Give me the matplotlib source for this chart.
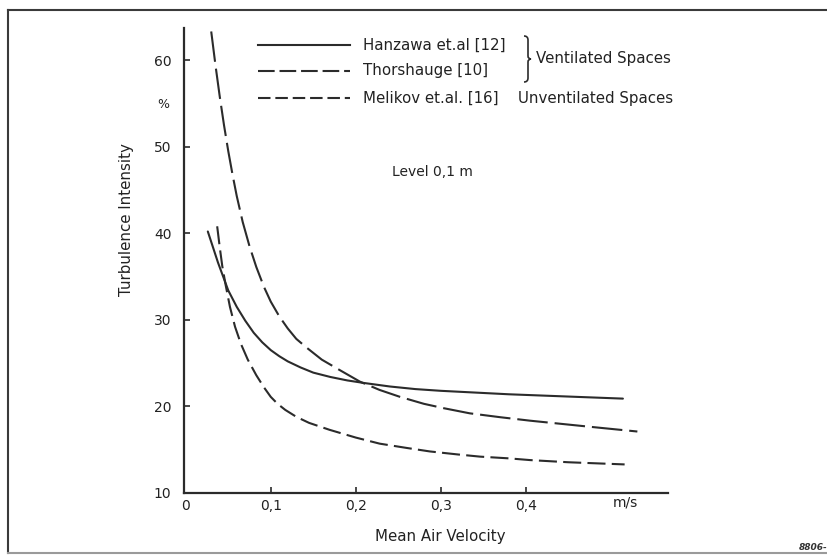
import matplotlib
matplotlib.use("Agg")
import matplotlib.pyplot as plt
from matplotlib.lines import Line2D
from matplotlib.path import Path
from matplotlib.patches import PathPatch
from matplotlib.transforms import blended_transform_factory

plt.rcParams["font.family"] = ["DejaVu Sans"]
plt.rcParams["lines.scale_dashes"] = False

# Mean air velocity (m/s) and turbulence intensity (%) for each source
hanzawa_v = [0.026, 0.032, 0.038, 0.044, 0.050, 0.060, 0.070, 0.080, 0.090,
             0.100, 0.110, 0.120, 0.135, 0.150, 0.170, 0.190, 0.210, 0.240,
             0.270, 0.300, 0.340, 0.380, 0.420, 0.460, 0.514]
hanzawa_tu = [40.2, 38.4, 36.6, 35.0, 33.4, 31.5, 29.9, 28.5, 27.4,
              26.5, 25.8, 25.2, 24.5, 23.9, 23.4, 23.0, 22.7, 22.3,
              22.0, 21.8, 21.6, 21.4, 21.25, 21.1, 20.9]

thorshauge_v = [0.030, 0.035, 0.040, 0.045, 0.050, 0.055, 0.060, 0.067, 0.075,
                0.083, 0.092, 0.100, 0.110, 0.120, 0.130, 0.142, 0.160, 0.181,
                0.205, 0.228, 0.252, 0.280, 0.303, 0.334, 0.370, 0.405, 0.440,
                0.480, 0.531]
thorshauge_tu = [63.3, 59.4, 55.8, 52.5, 49.5, 46.8, 44.3, 41.3, 38.5,
                 36.1, 33.8, 32.1, 30.4, 29.0, 27.8, 26.8, 25.4, 24.2,
                 22.85, 21.9, 21.1, 20.3, 19.8, 19.2, 18.75, 18.35, 18.0,
                 17.6, 17.1]

melikov_v = [0.037, 0.040, 0.043, 0.047, 0.052, 0.058, 0.065, 0.073, 0.083,
             0.092, 0.100, 0.108, 0.117, 0.130, 0.145, 0.169, 0.200, 0.228,
             0.260, 0.287, 0.320, 0.346, 0.380, 0.405, 0.450, 0.516]
melikov_tu = [40.8, 38.4, 36.2, 34.0, 31.5, 29.2, 27.2, 25.4, 23.6,
              22.2, 21.1, 20.3, 19.6, 18.8, 18.1, 17.3, 16.4, 15.7,
              15.2, 14.8, 14.45, 14.2, 14.0, 13.8, 13.55, 13.3]

y_ticks = [10, 20, 30, 40, 50, 60]
x_ticks = [0, 0.1, 0.2, 0.3, 0.4]
x_tick_labels = ["0", "0,1", "0,2", "0,3", "0,4"]

W, H = 828, 556
INK = "#2b2b2b"
TXT = "#222222"
LW = 1.5
FS_TICK = 10
FS = 10.8
DASH_LONG = (0, (22, 5))
DASH_SHORT = (0, (13, 4.5))


def fx(px):
    return px / W


def fy(py):
    return 1 - py / H


fig = plt.figure(figsize=(W / 100, H / 100), dpi=100)
fig.patch.set_facecolor("white")

ax = fig.add_axes([fx(184), fy(493), fx(668) - fx(184), fy(28) - fy(493)])
ax.set_xlim(-0.002, 0.567)
ax.set_ylim(10, 63.7)

ax.plot(hanzawa_v, hanzawa_tu, color=INK, lw=LW, solid_capstyle="round",
        solid_joinstyle="round")
ax.plot(thorshauge_v, thorshauge_tu, color=INK, lw=LW, linestyle=DASH_LONG,
        dash_joinstyle="round")
ax.plot(melikov_v, melikov_tu, color=INK, lw=LW, linestyle=DASH_SHORT,
        dash_joinstyle="round")

for side in ("top", "right"):
    ax.spines[side].set_visible(False)
for side in ("left", "bottom"):
    ax.spines[side].set_color(INK)
    ax.spines[side].set_linewidth(1.6)

ax.set_yticks(y_ticks)
ax.set_yticklabels([str(t) for t in y_ticks])
ax.set_xticks(x_ticks)
ax.set_xticklabels(x_tick_labels)
ax.tick_params(axis="both", direction="in", length=4, width=1.2, colors=INK,
               labelsize=FS_TICK, labelcolor=TXT)
ax.tick_params(axis="y", pad=9)
ax.tick_params(axis="x", pad=4)
ax.xaxis.get_major_ticks()[0].tick1line.set_visible(False)

trans = blended_transform_factory(ax.transData, fig.transFigure)
ax.text(0.517, fy(503), "m/s", transform=trans, ha="center", va="center",
        fontsize=FS_TICK, color=TXT)

fig.text(fx(127), fy(220), "Turbulence Intensity", rotation=90,
         ha="center", va="center", fontsize=FS, color=TXT)
fig.text(fx(163), fy(105), "%", ha="center", va="center",
         fontsize=FS_TICK - 1, color=TXT)
fig.text(fx(440), fy(536), "Mean Air Velocity", ha="center", va="center",
         fontsize=FS, color=TXT)
fig.text(fx(392), fy(172), "Level 0,1 m", ha="left", va="center",
         fontsize=10, color=TXT)

# Key: sample strokes and source names
key_rows = [(45, "solid", "Hanzawa et.al [12]"),
            (71, (0, (12, 3.5)), "Thorshauge [10]"),
            (98, (0, (9, 3.5)), "Melikov et.al. [16]")]
for py, ls, label in key_rows:
    fig.add_artist(Line2D([fx(258), fx(350)], [fy(py), fy(py)],
                          transform=fig.transFigure, color=INK, lw=LW,
                          linestyle=ls))
    fig.text(fx(363), fy(py), label, ha="left", va="center",
             fontsize=FS, color=TXT)

# Brace grouping the ventilated-space sources
bx, btop, bbot, bmid = 524, 36, 82, 59
verts = [(bx, btop), (bx + 4, btop), (bx + 4, btop + 4),
         (bx + 4, bmid - 3), (bx + 4, bmid), (bx + 7, bmid),
         (bx + 4, bmid), (bx + 4, bmid + 3),
         (bx + 4, bbot - 4), (bx + 4, bbot), (bx, bbot)]
codes = [Path.MOVETO, Path.CURVE3, Path.CURVE3,
         Path.LINETO, Path.CURVE3, Path.CURVE3,
         Path.CURVE3, Path.CURVE3,
         Path.LINETO, Path.CURVE3, Path.CURVE3]
brace = Path([(fx(x), fy(y)) for x, y in verts], codes)
fig.add_artist(PathPatch(brace, transform=fig.transFigure, fill=False,
                         edgecolor=INK, lw=1.2))

fig.text(fx(536), fy(58), "Ventilated Spaces", ha="left", va="center",
         fontsize=FS, color=TXT)
fig.text(fx(518), fy(98), "Unventilated Spaces", ha="left", va="center",
         fontsize=FS, color=TXT)

# Page frame
frame = dict(transform=fig.transFigure, color="#3a3a3a", lw=1.5)
fig.add_artist(Line2D([fx(8), 1.0], [fy(10), fy(10)], **frame))
fig.add_artist(Line2D([fx(8), fx(8)], [fy(10), fy(553)], **frame))
fig.add_artist(Line2D([fx(8), 1.0], [fy(553), fy(553)], color="#9a9a9a",
                      lw=1.5, transform=fig.transFigure))

fig.text(fx(799), fy(547), "8806-", ha="left", va="center", fontsize=6.5,
         style="italic", weight="bold", color="#333333")

fig.savefig("out.png", dpi=100, facecolor="white")
